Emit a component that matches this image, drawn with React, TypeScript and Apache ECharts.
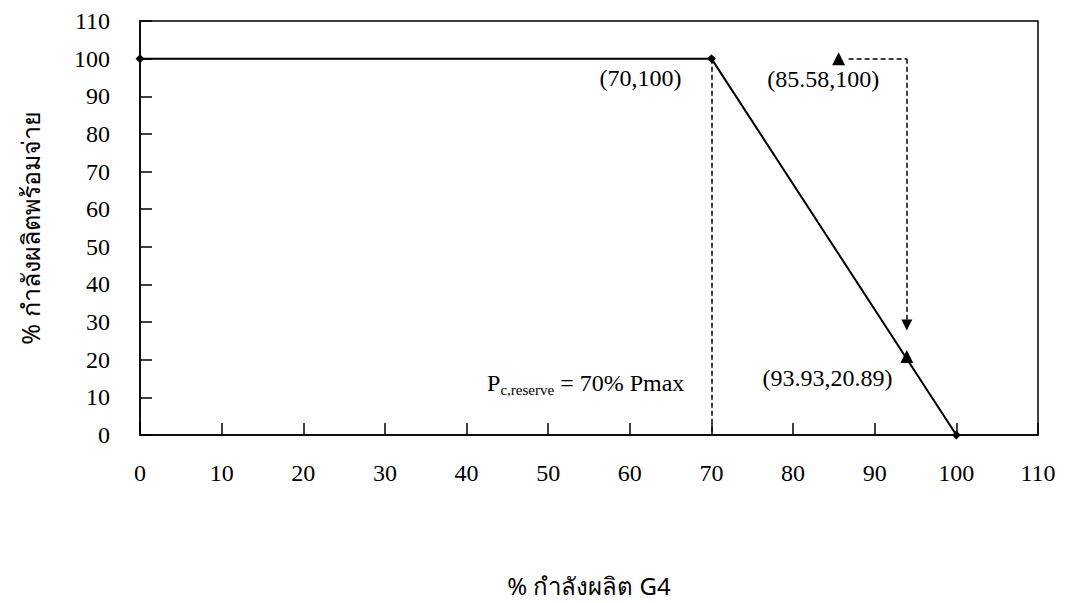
import React, { useEffect, useRef } from "react";
import * as echarts from "echarts";

const xTicks = [0, 10, 20, 30, 40, 50, 60, 70, 80, 90, 100, 110];
const yTicks = [0, 10, 20, 30, 40, 50, 60, 70, 80, 90, 100, 110];
const mainCurve: [number, number][] = [[0, 100], [70, 100], [100, 0]];
const reserveLine: [number, number][] = [[70, 100], [70, 0]];
const shiftHorizontal: [number, number][] = [[86.8, 100], [93.93, 100]];
const shiftVertical: [number, number][] = [[93.93, 100], [93.93, 29.2]];
const trianglePoints: [number, number][] = [[85.58, 100], [93.93, 20.89]];
const labelTexts = ["(70,100)", "(85.58,100)", "(93.93,20.89)", "{p|P}{s|c,reserve}{p| = 70% Pmax}"];
const labelAt: [number, number][] = [[61.3, 94.9], [83.7, 94.7], [84.2, 15.2], [54.6, 13.8]];

const SERIF = "'Liberation Serif', 'Times New Roman', serif";
const SANS = "'Noto Sans', 'DejaVu Sans', sans-serif";
const dashed = { color: "#000", width: 1.5, type: [5, 3] as any, opacity: 1 };

export default function App() {
  const ref = useRef<HTMLDivElement>(null);
  useEffect(() => {
    const chart = echarts.init(ref.current!, null, { renderer: "svg" });
    chart.setOption({
      animation: false,
      backgroundColor: "#fff",
      grid: {
        left: 140, right: 27, top: 21, bottom: 168, show: true, borderColor: "#000", borderWidth: 1.5,
        containLabel: false, outerBoundsMode: "none",
      },
      xAxis: {
        type: "value", min: 0, max: 110, interval: 10,
        name: "% กำลังผลิต G4", nameLocation: "middle", nameGap: 138,
        nameTextStyle: { fontFamily: SANS, fontSize: 24, color: "#000" },
        axisLine: { lineStyle: { color: "#000", width: 1.5 } },
        axisTick: { inside: true, length: 12, lineStyle: { color: "#000", width: 1.5 } },
        axisLabel: { margin: 26, fontFamily: SERIF, fontSize: 24, color: "#000",
          formatter: (v: number) => (xTicks.includes(v) ? String(v) : "") },
        splitLine: { show: false },
      },
      yAxis: {
        type: "value", min: 0, max: 110, interval: 10,
        name: "% กำลังผลิตพร้อมจ่าย", nameLocation: "middle", nameGap: 98,
        nameTextStyle: { fontFamily: SANS, fontSize: 25, color: "#000" },
        axisLine: { lineStyle: { color: "#000", width: 1.5 } },
        axisTick: { inside: true, length: 12, lineStyle: { color: "#000", width: 1.5 } },
        axisLabel: { margin: 30, fontFamily: SERIF, fontSize: 24, color: "#000",
          formatter: (v: number) => (yTicks.includes(v) ? String(v) : "") },
        splitLine: { show: false },
      },
      series: [
        {
          type: "line", data: mainCurve, symbol: "diamond", symbolSize: 9,
          lineStyle: { color: "#000", width: 2 }, itemStyle: { color: "#000" },
        },
        {
          type: "lines", coordinateSystem: "cartesian2d",
          data: [{ coords: reserveLine }, { coords: shiftHorizontal }], symbol: "none",
          lineStyle: dashed,
        },
        {
          type: "lines", coordinateSystem: "cartesian2d",
          data: [{ coords: shiftVertical }], symbol: ["none", "triangle"], symbolSize: 11,
          lineStyle: dashed, itemStyle: { color: "#000" },
        },
        {
          type: "scatter", data: trianglePoints, symbol: "triangle", symbolSize: 13,
          itemStyle: { color: "#000", opacity: 1 },
        },
        {
          type: "scatter", symbolSize: 0,
          itemStyle: { opacity: 1 },
          data: labelAt.map((p, i) => ({ value: p, label: { formatter: labelTexts[i] } })),
          label: {
            show: true, position: "inside", color: "#000", fontFamily: SERIF, fontSize: 24,
            rich: {
              p: { fontFamily: SERIF, fontSize: 24, color: "#000" },
              s: { fontFamily: SERIF, fontSize: 15, color: "#000", padding: [14, 0, 0, 0] },
            },
          },
        },
      ],
    });
    return () => chart.dispose();
  }, []);
  return <div ref={ref} style={{ width: 1065, height: 603, position: "absolute", left: 0, top: 0 }} />;
}
